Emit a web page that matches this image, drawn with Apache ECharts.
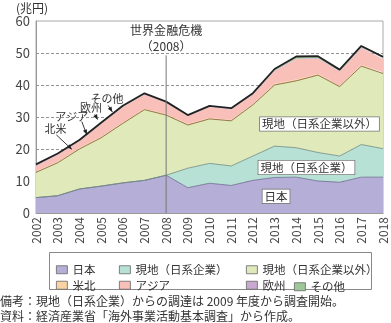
<!DOCTYPE html>
<html>
<head>
<meta charset="utf-8">
<script src="https://cdn.jsdelivr.net/npm/echarts@6/dist/echarts.min.js"></script>
<style>
html,body{margin:0;padding:0;background:#fff;}
#chart{width:391px;height:323px;}
</style>
</head>
<body>
<div id="chart"></div>
<script>
// 調達額（兆円）2002〜2018年度
const years = ['2002','2003','2004','2005','2006','2007','2008','2009','2010','2011','2012','2013','2014','2015','2016','2017','2018'];
const japan      = [4.8,5.4,7.5,8.4,9.4,10.2,11.8,7.9,9.3,8.6,10.2,11.1,11.2,10.0,9.6,11.2,11.2];
const localJp    = [0,0,0,0,0,0,0,6.1,6.2,6.1,7.6,9.8,9.2,8.9,8.2,10.2,8.9];
const localOther = [7.9,10.3,12.5,15.1,18.6,22.1,18.8,13.5,13.9,14.1,16.0,19.1,20.9,24.2,21.7,24.5,23.5];
const northAm    = [0.3,0.3,0.3,0.3,0.3,0.3,0.3,0.3,0.3,0.3,0.3,0.4,0.4,0.4,0.3,0.4,0.4];
const asia       = [1.8,2.2,2.1,4.0,4.8,4.4,3.5,2.4,3.4,3.25,2.85,3.9,6.4,4.7,4.4,5.2,4.1];
const europe     = [0.2,0.2,0.2,0.2,0.2,0.2,0.2,0.2,0.2,0.2,0.2,0.2,0.2,0.2,0.2,0.2,0.2];
const others     = [0.2,0.2,0.2,0.2,0.2,0.2,0.2,0.2,0.2,0.2,0.3,0.5,0.6,0.6,0.4,0.5,0.5];
const yTicks = [0,10,20,30,40,50,60];

const FONT = '"Noto Sans CJK JP", "Noto Sans", sans-serif';
const W = 391, H = 323;
const GRID = {left: 36, right: 8, top: 21, bottom: 110};
const chart = echarts.init(document.getElementById('chart'), null, {renderer: 'canvas', width: W, height: H});

const layers = [
  {name: '日本',               data: japan,      fill: '#b5aed7', line: '#6d6790', lw: 0.8},
  {name: '現地（日系企業）',     data: localJp,    fill: '#b7e1d5', line: '#6f8a80', lw: 0.8},
  {name: '現地（日系企業以外）', data: localOther, fill: '#dfe9ba', line: '#8a6a3a', lw: 0.9},
  {name: '米北',               data: northAm,    fill: '#f9d3a3', line: '#f0b880', lw: 0},
  {name: 'アジア',             data: asia,       fill: '#f8c0b8', line: '#777', lw: 0},
  {name: '欧州',               data: europe,     fill: '#c9a9cf', line: '#777', lw: 0},
  {name: 'その他',             data: others,     fill: '#9fc79a', line: '#222', lw: 1.8}
];

const series = layers.map(l => ({
  name: l.name,
  type: 'line',
  stack: 'total',
  symbol: 'none',
  showSymbol: false,
  data: l.data,
  itemStyle: {color: l.fill},
  lineStyle: {color: l.line, width: l.lw},
  areaStyle: {color: l.fill, opacity: 1},
  z: 2
}));

const legendBase = {
  orient: 'vertical',
  top: 259,
  itemWidth: 11,
  itemHeight: 8,
  itemGap: 4,
  icon: 'rect',
  selectedMode: false,
  textStyle: {fontSize: 11.5, color: '#333', fontFamily: FONT},
  itemStyle: {borderColor: '#666', borderWidth: 0.8}
};

// 注記：年・値から描画領域内の位置を求める（グリッドと同じ線形写像）
const yMin = yTicks[0], yMax = yTicks[yTicks.length - 1];
const x0 = +years[0], x1 = +years[years.length - 1];
const px = (yr, v) => [
  GRID.left + (yr - x0) / (x1 - x0) * (W - GRID.left - GRID.right),
  (H - GRID.bottom) - (v - yMin) / (yMax - yMin) * (H - GRID.top - GRID.bottom)
];
const g = [];

function text(str, p, size) {
  g.push({type: 'text', x: p[0], y: p[1], z: 20,
    style: {text: str, fontSize: size, fill: '#333', fontFamily: FONT, align: 'center', verticalAlign: 'middle'}});
}
function arrow(from, to) {
  const a = px(from[0], from[1]), b = px(to[0], to[1]);
  g.push({type: 'line', z: 20, shape: {x1: a[0], y1: a[1], x2: b[0], y2: b[1]}, style: {stroke: '#222', lineWidth: 0.9}});
  const ang = Math.atan2(b[1] - a[1], b[0] - a[0]);
  const L = 5, Wd = 2.2;
  const bx = b[0] - L * Math.cos(ang), by = b[1] - L * Math.sin(ang);
  g.push({type: 'polygon', z: 20, shape: {points: [
    [b[0], b[1]],
    [bx + Wd * Math.sin(ang), by - Wd * Math.cos(ang)],
    [bx - Wd * Math.sin(ang), by + Wd * Math.cos(ang)]
  ]}, style: {fill: '#222'}});
}
function boxLabel(str, yr, v) {
  const p = px(yr, v);
  g.push({type: 'text', x: p[0], y: p[1], z: 20,
    style: {text: str, fontSize: 11.5, fill: '#333', fontFamily: FONT, align: 'center', verticalAlign: 'middle',
      backgroundColor: '#fff', borderColor: '#777', borderWidth: 0.8, padding: [1, 2, 1, 2]}});
}

// 世界金融危機（2008）
const crisisTop = px(2008, 49.3), crisisBottom = px(2008, 0);
g.push({type: 'line', z: 15, shape: {x1: crisisTop[0], y1: crisisTop[1], x2: crisisBottom[0], y2: crisisBottom[1]}, style: {stroke: '#777', lineWidth: 1}});
text('世界金融危機', px(2008, 56.9), 12);
text('（2008）', px(2008, 51.9), 12);

// 地域ラベルと矢印
text('その他', px(2005.27, 35.6), 11);
arrow([2005.33, 33.6], [2005.52, 31.6]);
text('欧州', px(2004.54, 32.8), 11);
arrow([2004.71, 30.8], [2004.84, 29.2]);
text('アジア', px(2003.65, 30.2), 11);
arrow([2004.11, 28.6], [2004.34, 24.5]);
text('北米', px(2002.9, 26.2), 11);
arrow([2002.94, 24.4], [2003.65, 19.9]);

boxLabel('現地（日系企業以外）', 2015.07, 27.8);
boxLabel('現地（日系企業）', 2014.47, 14.2);
boxLabel('日本', 2013.07, 5.2);

// 単位
g.push({type: 'text', left: 16, top: 2, z: 20, style: {text: '(兆円)', fontSize: 12, fill: '#333', fontFamily: FONT}});
// 凡例枠
g.push({type: 'rect', z: 0, shape: {x: 49.5, y: 252.5, width: 322, height: 37}, style: {fill: 'none', stroke: '#888', lineWidth: 1}});
// 脚注
g.push({type: 'text', left: 0, top: 295, z: 20, style: {text: '備考：現地（日系企業）からの調達は 2009 年度から調査開始。', fontSize: 12, fill: '#333', fontFamily: FONT}});
g.push({type: 'text', left: 0, top: 310, z: 20, style: {text: '資料：経済産業省「海外事業活動基本調査」から作成。', fontSize: 12, fill: '#333', fontFamily: FONT}});

chart.setOption({
  animation: false,
  grid: {left: GRID.left, right: GRID.right, top: GRID.top, bottom: GRID.bottom, show: true, borderColor: '#aaa', borderWidth: 1, backgroundColor: 'transparent'},
  xAxis: {
    type: 'category', data: years, boundaryGap: false,
    axisLine: {show: true, lineStyle: {color: '#999'}},
    axisTick: {show: false},
    splitLine: {show: false},
    axisLabel: {rotate: 90, fontSize: 12, color: '#444', fontFamily: FONT, margin: 4, interval: 0}
  },
  yAxis: {
    type: 'value', min: yMin, max: yMax, interval: 10,
    axisLine: {show: true, lineStyle: {color: '#999'}},
    axisTick: {show: false},
    splitLine: {show: true, showMaxLine: false, showMinLine: false, lineStyle: {color: '#777', type: [3, 2], width: 0.8}},
    axisLabel: {fontSize: 13, color: '#444', fontFamily: FONT, margin: 6}
  },
  legend: [
    Object.assign({}, legendBase, {left: 51, data: ['日本', '米北']}),
    Object.assign({}, legendBase, {left: 114, data: ['現地（日系企業）', 'アジア']}),
    Object.assign({}, legendBase, {left: 241, data: ['現地（日系企業以外）', '欧州']}),
    Object.assign({}, legendBase, {left: 289, top: 276, data: ['その他']})
  ],
  graphic: g,
  series: series
});
</script>
</body>
</html>
